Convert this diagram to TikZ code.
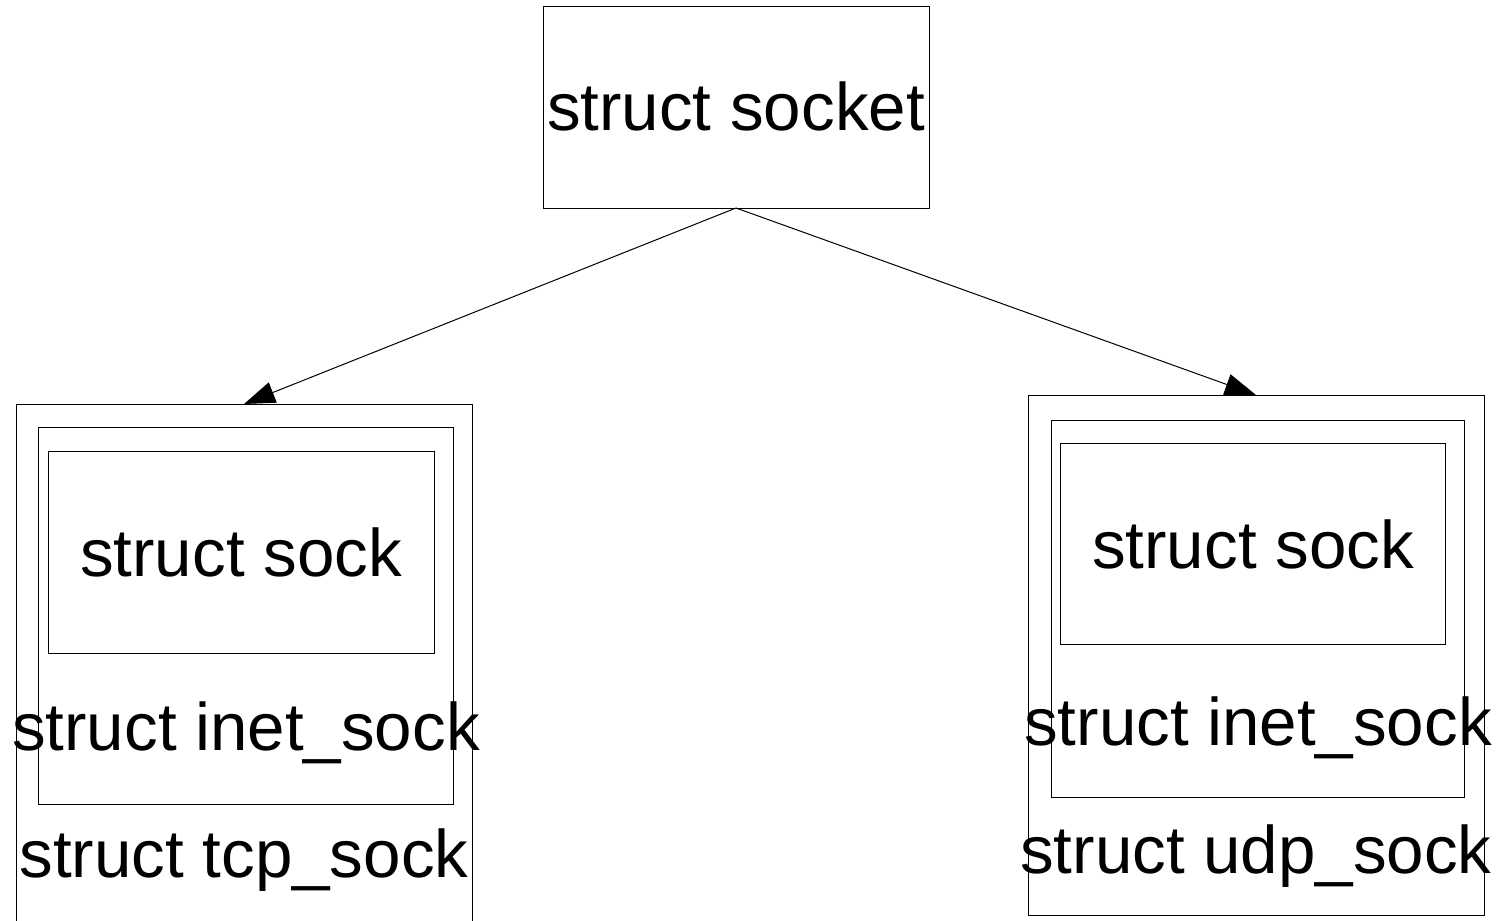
\documentclass[tikz,border=0pt]{standalone}
\usepackage{fontspec}
\setmainfont{Liberation Sans}
\usetikzlibrary{arrows.meta}
\begin{document}
\begin{tikzpicture}[x=0.5pt,y=-0.5pt,
  box/.style={draw=black, line width=0.5pt, rectangle, inner sep=0pt, outer sep=0pt},
  lbl/.style={inner sep=0pt, anchor=base, font=\fontsize{33.65}{40}\selectfont},
  conn/.style={draw=black, line width=0.5pt, -{Triangle[length=15.5pt,width=10.8pt]}}]
\useasboundingbox (0,0) rectangle (1500,921);
\begin{scope}
\clip (0,0) rectangle (1500,921);
% top box
\node[box, minimum width=193pt, minimum height=101pt] (top) at (736,107) {};
\node[lbl] (topt) at (736,130) {struct socket};
% left group
\node[box, minimum width=228pt, minimum height=278pt] (lo) at (244,682) {};
\node[box, minimum width=207.5pt, minimum height=188.5pt] (lm) at (245.5,615.5) {};
\node[box, minimum width=193pt, minimum height=101pt] (li) at (241,552) {};
\node[lbl] (lit) at (241,576) {struct sock};
\node[lbl] (lmt) at (246,750) {struct inet\_sock};
\node[lbl] (lot) at (244,877) {struct tcp\_sock};
% right group
\node[box, minimum width=228pt, minimum height=260pt] (ro) at (1256,655) {};
\node[box, minimum width=206.5pt, minimum height=188.5pt] (rm) at (1257.5,608.5) {};
\node[box, minimum width=192.5pt, minimum height=100.5pt] (ri) at (1252.5,543.5) {};
\node[lbl] (rit) at (1253,568) {struct sock};
\node[lbl] (rmt) at (1258,745) {struct inet\_sock};
\node[lbl] (rot) at (1256,873) {struct udp\_sock};
% connectors
\draw[conn] (top.south) -- (lo.north);
\draw[conn] (top.south) -- (ro.north);
\end{scope}
\end{tikzpicture}
\end{document}
